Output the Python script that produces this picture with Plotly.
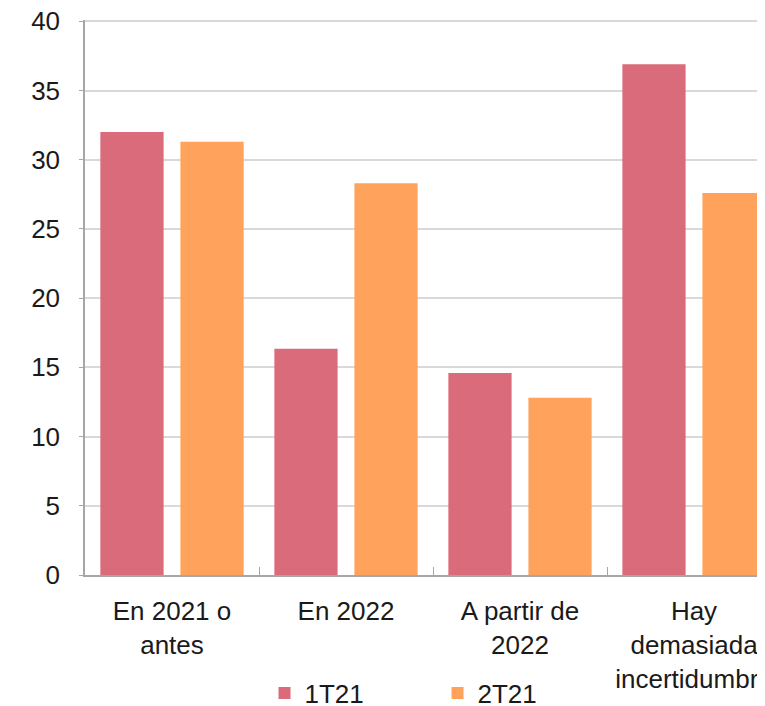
import plotly.graph_objects as go

categories = ["En 2021 o<br>antes", "En 2022", "A partir de<br>2022", "Hay<br>demasiada<br>incertidumbre"]
series_names = ["1T21", "2T21"]
values_1t21 = [32.0, 16.35, 14.6, 36.9]
values_2t21 = [31.3, 28.3, 12.8, 27.6]
colors = ["#DA6B7A", "#FFA35C"]
y_ticks = [0, 5, 10, 15, 20, 25, 30, 35, 40]

fig = go.Figure()
for name, vals, col in zip(series_names, [values_1t21, values_2t21], colors):
    fig.add_trace(go.Bar(x=categories, y=vals, name=name, marker=dict(color=col, line=dict(width=0))))

font = "Liberation Sans, Arial, sans-serif"
fig.update_layout(
    template="none",
    width=757, height=698,
    margin=dict(l=77, r=0, t=12, b=131),
    paper_bgcolor="white", plot_bgcolor="white",
    barmode="group", bargap=0.08, bargroupgap=0.21,
    font=dict(family=font, size=26, color="#1a1a1a"),
    showlegend=True,
    legend=dict(orientation="h", x=0.264, xanchor="left", xref="paper",
                y=0.052, yanchor="top", yref="container",
                font=dict(size=26), itemwidth=30, entrywidth=128, entrywidthmode="pixels",
                bgcolor="rgba(0,0,0,0)"),
    xaxis=dict(range=[-0.5, 3.408], showgrid=False, showline=True, linecolor="#a6a6a6", linewidth=1.5,
               ticks="inside", tickson="boundaries", ticklen=8, tickcolor="#a6a6a6",
               automargin=False, ticklabelstandoff=12, zeroline=False),
    yaxis=dict(range=[0, 40.1], tickvals=y_ticks, showgrid=True, gridcolor="#d9d9d9", gridwidth=1.5,
               showline=True, linecolor="#a6a6a6", linewidth=1.5, ticks="outside", ticklen=4,
               tickcolor="#a6a6a6", automargin=False, ticklabelstandoff=14, zeroline=False,
               ticklabeloverflow="allow"),
)
fig.write_html("out.html")
